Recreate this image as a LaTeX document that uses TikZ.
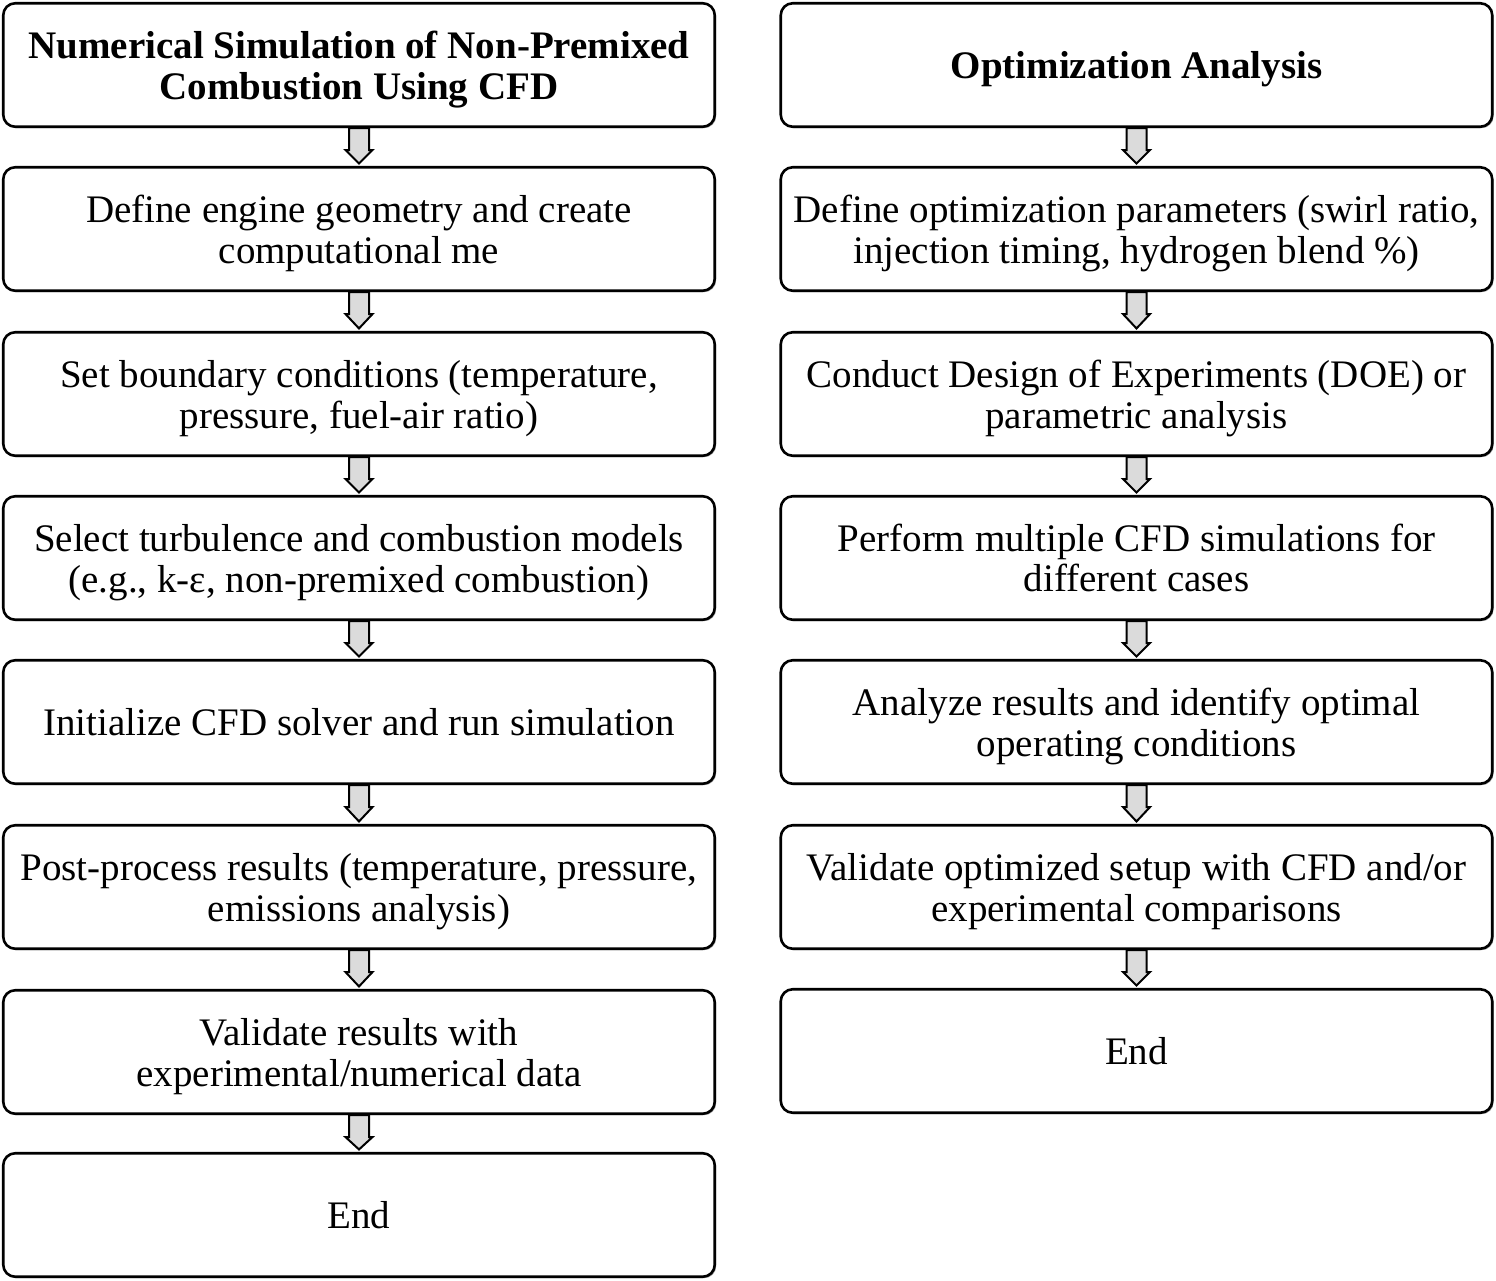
\documentclass[tikz,border=0pt]{standalone}
\usepackage{fontspec}
\setmainfont{Liberation Serif}
\usetikzlibrary{calc,shadows}
\tikzset{
  flowbox/.style={draw=black, line width=2.6pt, rounded corners=12pt, fill=white,
    minimum width=711.5pt, minimum height=123.5pt,
    drop shadow={shadow xshift=1.4pt, shadow yshift=-1.4pt, fill=black!55, opacity=0.7}},
  flattext/.style={align=center, inner sep=0pt, font=\fontsize{39}{40.5}\selectfont},
  boxtext/.style={flattext, yshift=-4.5pt},
  titletext/.style={boxtext, font=\fontsize{39}{40.5}\selectfont\bfseries},
  blockarr/.style={draw=black, line width=2pt, fill=black!14, line join=miter}
}
\newcommand{\blockarrow}[2]{%
  \draw[blockarr] ($(#1.south)+(-10,0)$) -- ($(#1.south)+(-10,22)$) -- ($(#1.south)+(-13.5,22)$)
    -- ($(#2.north)+(0,-2.5)$) -- ($(#1.south)+(13.5,22)$) -- ($(#1.south)+(10,22)$)
    -- ($(#1.south)+(10,0)$) -- cycle;}
\begin{document}
\begin{tikzpicture}[x=1pt,y=-1pt]
\useasboundingbox (0,0) rectangle (1496,1281);
% left column
\node[flowbox, label={[titletext]center:{Numerical Simulation of Non-Premixed\\Combustion Using CFD}}] (L1) at (359,65) {};
\node[flowbox, label={[boxtext]center:{Define engine geometry and create\\computational me}}] (L2) at (359,229) {};
\node[flowbox, label={[boxtext]center:{Set boundary conditions (temperature,\\pressure, fuel-air ratio)}}] (L3) at (359,394) {};
\node[flowbox, label={[boxtext]center:{Select turbulence and combustion models\\(e.g., k-ε, non-premixed combustion)}}] (L4) at (359,558) {};
\node[flowbox, label={[flattext]center:{Initialize CFD solver and run simulation}}] (L5) at (359,722) {};
\node[flowbox, label={[boxtext]center:{Post-process results (temperature, pressure,\\emissions analysis)}}] (L6) at (359,887) {};
\node[flowbox, label={[boxtext]center:{Validate results with\\experimental/numerical data}}] (L7) at (359,1052) {};
\node[flowbox, label={[flattext]center:{End}}] (L8) at (359,1215) {};
% right column
\node[flowbox, label={[titletext]center:{Optimization Analysis}}] (R1) at (1136.5,65) {};
\node[flowbox, label={[boxtext]center:{Define optimization parameters (swirl ratio,\\injection timing, hydrogen blend \%)}}] (R2) at (1136.5,229) {};
\node[flowbox, label={[boxtext]center:{Conduct Design of Experiments (DOE) or\\parametric analysis}}] (R3) at (1136.5,394) {};
\node[flowbox, label={[flattext]center:{Perform multiple CFD simulations for\\different cases}}] (R4) at (1136.5,558) {};
\node[flowbox, label={[boxtext]center:{Analyze results and identify optimal\\operating conditions}}] (R5) at (1136.5,722) {};
\node[flowbox, label={[boxtext]center:{Validate optimized setup with CFD and/or\\experimental comparisons}}] (R6) at (1136.5,887) {};
\node[flowbox, label={[flattext]center:{End}}] (R7) at (1136.5,1051) {};
% arrows
\foreach \a/\b in {L1/L2,L2/L3,L3/L4,L4/L5,L5/L6,L6/L7,L7/L8,R1/R2,R2/R3,R3/R4,R4/R5,R5/R6,R6/R7}{\blockarrow{\a}{\b}}
\end{tikzpicture}
\end{document}
